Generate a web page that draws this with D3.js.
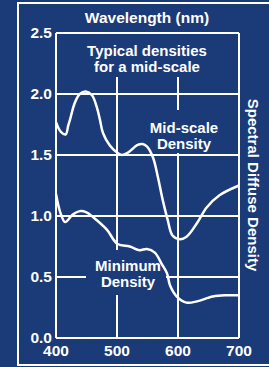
<!DOCTYPE html>
<html>
<head>
<meta charset="utf-8">
<script src="https://cdn.jsdelivr.net/npm/d3@7"></script>
<style>
  html, body { margin: 0; padding: 0; background: #1b3a78; }
  svg { display: block; font-family: "Liberation Sans", Arial, sans-serif; font-weight: bold; }
  text { fill: #fff; }
</style>
</head>
<body>
<script>
// chart data
let xTicks = [400, 500, 600, 700];
let yTicks = [0.0, 0.5, 1.0, 1.5, 2.0, 2.5];

let midWave = [400, 408, 416, 420, 423, 431, 439, 449, 459, 467, 472, 477, 488, 500, 508, 518, 533, 542, 549, 559, 567, 575, 583, 591, 603, 614, 631, 647, 668, 700];
let midDens = [1.77, 1.69, 1.67, 1.74, 1.79, 1.93, 2.0, 2.02, 1.99, 1.89, 1.79, 1.68, 1.58, 1.52, 1.50, 1.52, 1.58, 1.59, 1.57, 1.48, 1.32, 1.13, 0.97, 0.84, 0.81, 0.83, 0.94, 1.07, 1.17, 1.25];

let minWave = [400, 407, 415, 427, 439, 450, 461, 483, 501, 521, 537, 549, 562, 573, 582, 587, 598, 614, 631, 657, 680, 700];
let minDens = [1.18, 1.03, 0.95, 1.01, 1.04, 1.03, 0.99, 0.89, 0.77, 0.75, 0.72, 0.73, 0.70, 0.61, 0.53, 0.43, 0.34, 0.29, 0.30, 0.34, 0.35, 0.35];

let svgWidth = 269;
let svgHeight = 367;
let bg = "#1b3a78";

let margin = { top: 33, right: 30, bottom: 29, left: 56 };
let width = 239 - margin.left;
let height = 338 - margin.top;

let svg = d3.select("body")
    .append("svg")
    .attr("width", svgWidth)
    .attr("height", svgHeight);

// outer frame
svg.append("rect")
    .attr("x", 18).attr("y", 3)
    .attr("width", 300).attr("height", 362)
    .attr("fill", "none")
    .attr("stroke", "#fff")
    .attr("stroke-width", 2);

let chartGroup = svg.append("g")
    .attr("transform", `translate(${margin.left}, ${margin.top})`);

let xScale = d3.scaleLinear().domain([400, 700]).range([0, width]);
let yScale = d3.scaleLinear().domain([0, 2.5]).range([height, 0]);

// grid
chartGroup.selectAll(".vgrid")
    .data(xTicks)
    .enter()
    .append("line")
    .attr("x1", d => xScale(d)).attr("x2", d => xScale(d))
    .attr("y1", 0).attr("y2", height)
    .attr("stroke", "#fff").attr("stroke-width", 2);

chartGroup.selectAll(".hgrid")
    .data(yTicks)
    .enter()
    .append("line")
    .attr("x1", 0).attr("x2", width)
    .attr("y1", d => yScale(d)).attr("y2", d => yScale(d))
    .attr("stroke", "#fff").attr("stroke-width", 2);

// blue boxes that break the grid behind the labels
function box(x, y, w, h) {
    chartGroup.append("rect")
        .attr("x", x).attr("y", y)
        .attr("width", w).attr("height", h)
        .attr("fill", bg);
}
box(1, 1, width - 2, 43);
box(93, 77, 76, 43);
box(30, 217, 80, 45);

// curves
let line = d3.line()
    .x(d => xScale(d[0]))
    .y(d => yScale(d[1]))
    .curve(d3.curveCatmullRom);

chartGroup.append("path")
    .datum(midWave.map((w, i) => [w, midDens[i]]))
    .attr("d", line)
    .attr("fill", "none").attr("stroke", "#fff").attr("stroke-width", 2.5);

chartGroup.append("path")
    .datum(minWave.map((w, i) => [w, minDens[i]]))
    .attr("d", line)
    .attr("fill", "none").attr("stroke", "#fff").attr("stroke-width", 2.5);

// label text
function label(lines, cx, top, gap) {
    lines.forEach((t, i) => {
        chartGroup.append("text")
            .attr("x", cx)
            .attr("y", top + i * gap)
            .attr("text-anchor", "middle")
            .attr("font-size", 15)
            .text(t);
    });
}
label(["Typical densities", "for a mid-scale"], 91, 23, 16);
label(["Mid-scale", "Density"], 128, 100, 16);
label(["Minimum", "Density"], 72, 238, 16);

// axes labels
chartGroup.selectAll(".ylab")
    .data(yTicks)
    .enter()
    .append("text")
    .attr("x", -4)
    .attr("y", d => yScale(d) + 5)
    .attr("text-anchor", "end")
    .attr("font-size", 15.5)
    .text(d => d.toFixed(1));

chartGroup.selectAll(".xlab")
    .data(xTicks)
    .enter()
    .append("text")
    .attr("x", d => xScale(d))
    .attr("y", height + 18)
    .attr("text-anchor", "middle")
    .attr("font-size", 15.5)
    .text(d => d);

svg.append("text")
    .attr("x", 147).attr("y", 23)
    .attr("text-anchor", "middle")
    .attr("font-size", 15.5)
    .text("Wavelength (nm)");

svg.append("text")
    .attr("transform", "translate(248, 185) rotate(90)")
    .attr("text-anchor", "middle")
    .attr("font-size", 15)
    .text("Spectral Diffuse Density");
</script>
</body>
</html>
